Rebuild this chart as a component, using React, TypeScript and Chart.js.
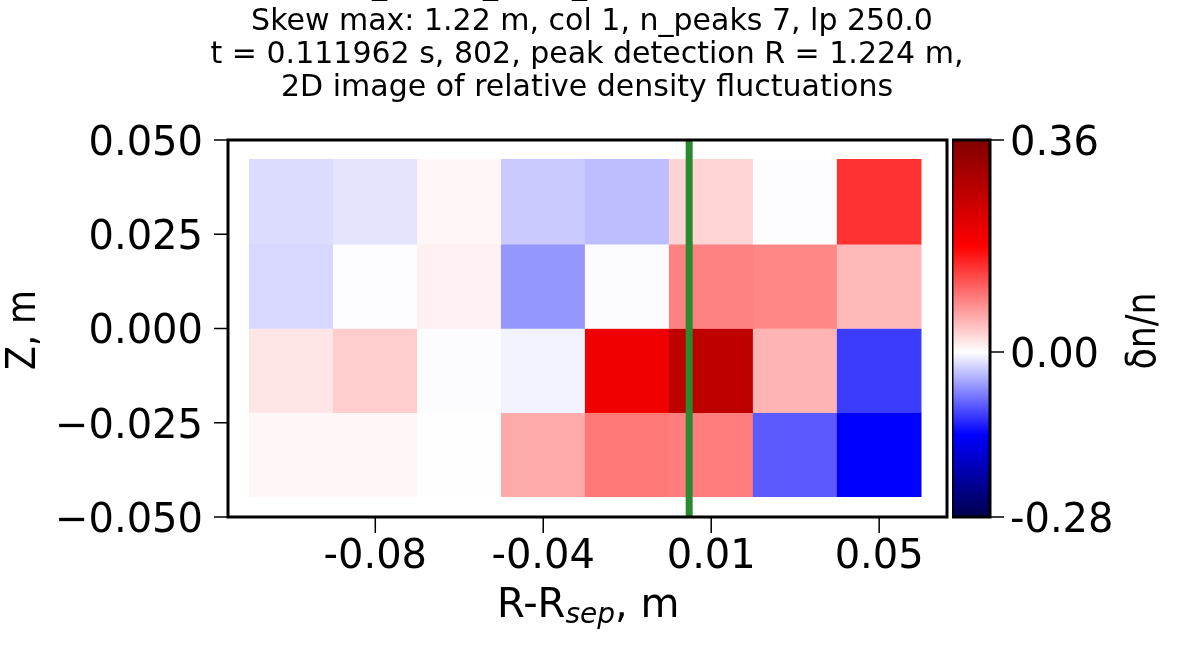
import React, { useEffect, useRef } from "react";
import { Chart, registerables } from "chart.js";

Chart.register(...registerables);

const rCentres = [-0.10167, -0.08, -0.05833, -0.03667, -0.015, 0.00667, 0.02833, 0.05];
const rowBounds = [
  [0.0224, 0.0449],
  [0, 0.0224],
  [-0.0223, 0],
  [-0.0446, -0.0223],
];
const row1 = [-0.0192, -0.0149, 0.0054, -0.029, -0.0357, 0.0304, -0.001, 0.1447];
const row2 = [-0.022, -0.001, 0.0098, -0.0577, -0.0016, 0.088, 0.0847, 0.0495];
const row3 = [0.018, 0.0353, -0.0016, -0.0066, 0.2016, 0.272, 0.053, -0.107];
const row4 = [0.0054, 0.0065, -0.0005, 0.06, 0.095, 0.092, -0.0906, -0.14];
const rows = [row1, row2, row3, row4];

const xTickValues = [-0.08, -0.03667, 0.00667, 0.05];
const xTickLabels = ["-0.08", "-0.04", "0.01", "0.05"];
const yTickValues = [-0.05, -0.025, 0, 0.025, 0.05];
const yTickLabels = ["\u22120.050", "\u22120.025", "0.000", "0.025", "0.050"];
const cbTickValues = [-0.28, 0, 0.36];
const cbTickLabels = ["-0.28", "0.00", "0.36"];
const peakLineR = 0.00098;
const titleLines = [
  "Skew max: 1.22 m, col 1, n_peaks 7, lp 250.0",
  "t = 0.111962 s, 802, peak detection R = 1.224 m,",
  "2D image of relative density fluctuations",
];
const clippedTitleMarks = [372, 483, 572];
const yAxisTitle = "Z, m";
const cbAxisTitle = "\u03b4n/n";

const FONT = "'DejaVu Sans'";
const VMIN = -0.28;
const VMAX = 0.36;

function cmap(v: number): string {
  const ch = (x: number) => Math.round(x * 255);
  if (v >= 0) {
    const t = v / VMAX;
    if (t < 0.5) return `rgb(255,${ch(1 - 2 * t)},${ch(1 - 2 * t)})`;
    return `rgb(${ch(1 - (t - 0.5))},0,0)`;
  }
  const t = -v / -VMIN;
  if (t < 0.5) return `rgb(${ch(1 - 2 * t)},${ch(1 - 2 * t)},255)`;
  return `rgb(0,0,${ch(1 - 1.4 * (t - 0.5))})`;
}

function drawRotated(ctx: any, text: string, baselineX: number, centreY: number) {
  ctx.save();
  ctx.translate(baselineX, centreY);
  ctx.rotate(-Math.PI / 2);
  ctx.scale(0.87, 1);
  ctx.font = `40px ${FONT}`;
  ctx.textAlign = "center";
  ctx.textBaseline = "alphabetic";
  ctx.fillStyle = "#000";
  ctx.fillText(text, 0, 0);
  ctx.restore();
}

const textPlugin = {
  id: "texts",
  afterDraw(chart: any) {
    const ctx = chart.ctx;
    ctx.save();
    ctx.fillStyle = "#000";
    ctx.textBaseline = "alphabetic";
    ctx.textAlign = "left";
    ctx.font = `30px ${FONT}`;
    for (const x of clippedTitleMarks) ctx.fillText("_", x, -6);
    ctx.textAlign = "center";
    ctx.fillText(titleLines[0], 592, 30);
    ctx.fillText(titleLines[1], 587, 63);
    ctx.fillText(titleLines[2], 587, 96);
    const parts = [
      { s: "R-R", f: `40px ${FONT}`, dy: 0 },
      { s: "sep", f: `italic 28px ${FONT}`, dy: 6 },
      { s: ", m", f: `40px ${FONT}`, dy: 0 },
    ];
    ctx.textAlign = "left";
    let x = 497;
    for (const p of parts) {
      ctx.font = p.f;
      ctx.fillText(p.s, x, 617 + p.dy);
      x += ctx.measureText(p.s).width;
    }
    ctx.restore();
    drawRotated(ctx, yAxisTitle, 35, 330);
    drawRotated(ctx, cbAxisTitle, 1155, 331);
  },
};

const gradientFill = (context: any) => {
  const { chart } = context;
  const a = chart.chartArea;
  if (!a) return "#000";
  const g = chart.ctx.createLinearGradient(0, a.top, 0, a.bottom);
  const pos = (v: number) => (VMAX - v) / (VMAX - VMIN);
  g.addColorStop(0, cmap(VMAX));
  g.addColorStop(pos(VMAX / 2), cmap(VMAX / 2));
  g.addColorStop(pos(0), "rgb(255,255,255)");
  g.addColorStop(pos(VMIN / 2), cmap(VMIN / 2));
  g.addColorStop(1, cmap(VMIN));
  return g;
};

export default function App() {
  const mainRef = useRef<HTMLCanvasElement>(null);
  const barRef = useRef<HTMLCanvasElement>(null);

  useEffect(() => {
    document.body.style.margin = "0";
    document.body.style.background = "#fff";

    const bar = new Chart(barRef.current!, {
      type: "bar",
      data: {
        labels: ["cb"],
        datasets: [
          {
            label: "colour bar",
            data: [[VMIN, VMAX]],
            backgroundColor: gradientFill,
            borderWidth: 0,
            barPercentage: 1,
            categoryPercentage: 1,
          },
        ],
      } as any,
      options: {
        responsive: false,
        animation: false,
        devicePixelRatio: 1,
        layout: { padding: { top: 140, bottom: 128, left: 0, right: 0 } },
        plugins: { legend: { display: false }, tooltip: { enabled: false } },
        scales: {
          x: { display: false },
          y: {
            type: "linear",
            position: "right",
            min: VMIN,
            max: VMAX,
            grid: { display: false, drawTicks: false },
            border: { display: false },
            afterBuildTicks: (s: any) => {
              s.ticks = cbTickValues.map((value) => ({ value }));
            },
            afterFit: (s: any) => {
              s.width = 206;
            },
            ticks: {
              autoSkip: false,
              color: "#000",
              padding: 20,
              labelOffset: 4.5,
              font: { family: FONT, size: 40 },
              callback: (v: any) => {
                const i = cbTickValues.findIndex((t) => Math.abs(t - v) < 1e-6);
                return i >= 0 ? cbTickLabels[i] : "";
              },
            },
          },
        },
      } as any,
      plugins: [
        {
          id: "cbFrame",
          afterDatasetsDraw(chart: any) {
            const { ctx, chartArea: a, scales } = chart;
            ctx.save();
            ctx.strokeStyle = "#000";
            ctx.lineWidth = 3;
            ctx.strokeRect(a.left, a.top, a.right - a.left, a.bottom - a.top);
            ctx.lineWidth = 1.5;
            ctx.beginPath();
            for (const v of cbTickValues) {
              const py = scales.y.getPixelForValue(v);
              ctx.moveTo(a.right, py);
              ctx.lineTo(a.right + 14, py);
            }
            ctx.stroke();
            ctx.restore();
          },
        },
      ],
    });

    const main = new Chart(mainRef.current!, {
      type: "bar",
      data: {
        datasets: [
          ...rows.map((row, i) => ({
            type: "bar" as const,
            label: `Z row ${i + 1}`,
            data: row.map((_, j) => ({ x: rCentres[j], y: rowBounds[i] })),
            backgroundColor: row.map(cmap),
            borderWidth: 0,
            grouped: false,
            barPercentage: 1,
            categoryPercentage: 1,
            order: 2,
          })),
          {
            type: "line" as const,
            label: "peak",
            data: [
              { x: peakLineR, y: -0.05 },
              { x: peakLineR, y: 0.05 },
            ],
            borderColor: "#2a8a2f",
            borderWidth: 7,
            pointRadius: 0,
            order: 1,
          },
        ],
      } as any,
      options: {
        responsive: false,
        animation: false,
        devicePixelRatio: 1,
        layout: { padding: { top: 140, right: 249, bottom: 0, left: 0 } },
        plugins: { legend: { display: false }, tooltip: { enabled: false }, title: { display: false } },
        scales: {
          x: {
            type: "linear",
            min: -0.118,
            max: 0.0675,
            offset: false,
            grid: { display: false, drawTicks: false },
            border: { display: false },
            afterBuildTicks: (s: any) => {
              s.ticks = xTickValues.map((value) => ({ value }));
            },
            afterFit: (s: any) => {
              s.height = 128;
            },
            ticks: {
              autoSkip: false,
              maxRotation: 0,
              color: "#000",
              padding: 17,
              font: { family: FONT, size: 40 },
              callback: (v: any) => {
                const i = xTickValues.findIndex((t) => Math.abs(t - v) < 1e-6);
                return i >= 0 ? xTickLabels[i] : "";
              },
            },
          },
          y: {
            type: "linear",
            min: -0.05,
            max: 0.05,
            grid: { display: false, drawTicks: false },
            border: { display: false },
            afterBuildTicks: (s: any) => {
              s.ticks = yTickValues.map((value) => ({ value }));
            },
            afterFit: (s: any) => {
              s.width = 228;
            },
            ticks: {
              autoSkip: false,
              color: "#000",
              padding: 25,
              labelOffset: 4.5,
              font: { family: FONT, size: 40 },
              callback: (v: any) => {
                const i = yTickValues.findIndex((t) => Math.abs(t - v) < 1e-6);
                return i >= 0 ? yTickLabels[i] : "";
              },
            },
          },
        },
      } as any,
      plugins: [
        textPlugin,
        {
          id: "frame",
          afterDatasetsDraw(chart: any) {
            const { ctx, chartArea: a, scales } = chart;
            ctx.save();
            ctx.strokeStyle = "#000";
            ctx.lineWidth = 3;
            ctx.strokeRect(a.left, a.top, a.right - a.left, a.bottom - a.top);
            ctx.lineWidth = 1.5;
            ctx.beginPath();
            for (const v of xTickValues) {
              const px = scales.x.getPixelForValue(v);
              ctx.moveTo(px, a.bottom);
              ctx.lineTo(px, a.bottom + 16);
            }
            for (const v of yTickValues) {
              const py = scales.y.getPixelForValue(v);
              ctx.moveTo(a.left, py);
              ctx.lineTo(a.left - 14, py);
            }
            ctx.stroke();
            ctx.restore();
          },
        },
      ],
    });

    return () => {
      main.destroy();
      bar.destroy();
    };
  }, []);

  return (
    <div style={{ position: "relative", width: 1196, height: 645, overflow: "hidden" }}>
      <canvas ref={barRef} width={244} height={645} style={{ position: "absolute", left: 952, top: 0 }} />
      <canvas ref={mainRef} width={1196} height={645} style={{ position: "absolute", left: 0, top: 0 }} />
    </div>
  );
}
